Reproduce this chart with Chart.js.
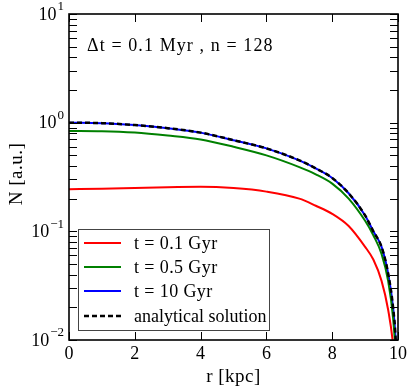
<!DOCTYPE html>
<html>
<head>
<meta charset="utf-8">
<script src="https://cdn.jsdelivr.net/npm/chart.js@4.4.1/dist/chart.umd.min.js"></script>
<style>
  html, body { margin: 0; padding: 0; background: #fff; }
  #c { display: block; }
</style>
</head>
<body>
<canvas id="c" width="413" height="392"></canvas>
<script>
// radius in kpc
const radius = [0, 1, 2, 3, 4, 5, 6, 7, 7.5, 8, 8.5, 9, 9.25, 9.5, 9.7, 9.85, 9.93, 9.99];
// N [a.u.]
const n01 = [0.244, 0.247, 0.251, 0.255, 0.257, 0.25, 0.232, 0.20, 0.172, 0.145, 0.112, 0.072, 0.055, 0.035, 0.019, 0.009, 0.004, 0.001];
const n05 = [0.84, 0.835, 0.81, 0.76, 0.70, 0.60, 0.50, 0.39, 0.335, 0.275, 0.20, 0.125, 0.092, 0.062, 0.035, 0.016, 0.007, 0.002];
const n10 = [1.0, 0.99, 0.95, 0.89, 0.81, 0.69, 0.58, 0.45, 0.38, 0.31, 0.224, 0.14, 0.10, 0.072, 0.041, 0.02, 0.01, 0.003];
const nAna = [1.0, 0.99, 0.95, 0.89, 0.81, 0.69, 0.58, 0.45, 0.38, 0.31, 0.224, 0.14, 0.10, 0.072, 0.041, 0.02, 0.01, 0.003];

const seriesLabels = ['t = 0.1 Gyr', 't = 0.5 Gyr', 't = 10 Gyr', 'analytical solution'];
const xTicks = [0, 2, 4, 6, 8, 10];
const yExponents = [-2, -1, 0, 1];

const serif = '"Liberation Serif", "DejaVu Serif", serif';

function pts(vals) {
    return radius.map((r, i) => ({ x: r, y: vals[i] }));
}

// frame, ticks, labels and legend drawn by hand (matplotlib look)
const decor = {
    id: 'decor',
    afterDatasetsDraw(chart) {
        const ctx = chart.ctx;
        const a = chart.chartArea;
        const xs = chart.scales.x, ys = chart.scales.y;
        ctx.save();
        ctx.strokeStyle = '#000';
        ctx.fillStyle = '#000';

        // ticks, inward, both sides
        ctx.lineWidth = 1;
        const tl = 8;
        xTicks.forEach(v => {
            const px = Math.round(xs.getPixelForValue(v)) + 0.5;
            ctx.beginPath();
            ctx.moveTo(px, a.bottom); ctx.lineTo(px, a.bottom - tl);
            ctx.moveTo(px, a.top); ctx.lineTo(px, a.top + tl);
            ctx.stroke();
        });
        for (let e = -2; e <= 0; e++) {
            for (let k = 1; k <= 10; k++) {
                const py = Math.round(ys.getPixelForValue(k * Math.pow(10, e))) + 0.5;
                ctx.beginPath();
                ctx.moveTo(a.left, py); ctx.lineTo(a.left + tl, py);
                ctx.moveTo(a.right, py); ctx.lineTo(a.right - tl, py);
                ctx.stroke();
            }
        }

        // frame
        ctx.lineWidth = 1.6;
        ctx.strokeRect(a.left, a.top, a.right - a.left, a.bottom - a.top);

        // x tick labels
        ctx.font = '18px ' + serif;
        ctx.textAlign = 'center';
        ctx.textBaseline = 'middle';
        xTicks.forEach(v => {
            ctx.fillText(String(v), xs.getPixelForValue(v), a.bottom + 14);
        });

        // y tick labels 10^e
        yExponents.forEach(e => {
            const py = ys.getPixelForValue(Math.pow(10, e));
            const sup = e < 0 ? '\u2212' + (-e) : String(e);
            ctx.font = '13px ' + serif;
            const ws = ctx.measureText(sup).width;
            const right = a.left - 5;
            ctx.textAlign = 'left';
            ctx.textBaseline = 'middle';
            ctx.fillText(sup, right - ws, py - 7);
            ctx.font = '18px ' + serif;
            ctx.textAlign = 'right';
            ctx.fillText('10', right - ws - 1, py + 1);
        });

        // axis titles
        ctx.font = '19px ' + serif;
        ctx.textAlign = 'center';
        ctx.textBaseline = 'middle';
        ctx.letterSpacing = '0.5px';
        ctx.fillText('r [kpc]', (a.left + a.right) / 2, a.bottom + 37);
        ctx.save();
        ctx.translate(17, 174);
        ctx.rotate(-Math.PI / 2);
        ctx.fillText('N [a.u.]', 0, 0);
        ctx.restore();

        // annotation
        ctx.font = '18px ' + serif;
        ctx.textAlign = 'left';
        ctx.letterSpacing = '1.1px';
        ctx.fillText('\u0394t = 0.1 Myr , n = 128', 87, 46);
        ctx.letterSpacing = '0px';

        // legend
        const lx = 78.5, ly = 229.5, lw = 191, lh = 101;
        ctx.fillStyle = '#fff';
        ctx.fillRect(lx, ly, lw, lh);
        ctx.strokeStyle = '#444';
        ctx.lineWidth = 1;
        ctx.strokeRect(lx, ly, lw, lh);
        const rows = [243, 267, 291, 316];
        seriesLabels.forEach((lab, i) => {
            const ds = chart.data.datasets.find(d => d.label === lab);
            ctx.strokeStyle = ds.borderColor;
            ctx.lineWidth = ds.borderWidth;
            ctx.setLineDash(ds.borderDash || []);
            ctx.beginPath();
            ctx.moveTo(84, rows[i]); ctx.lineTo(121, rows[i]);
            ctx.stroke();
            ctx.setLineDash([]);
            ctx.fillStyle = '#000';
            ctx.font = '18px ' + serif;
            ctx.letterSpacing = i < 3 ? '0.4px' : '0px';
            ctx.textBaseline = 'middle';
            ctx.fillText(lab, 134, rows[i] + 1);
        });
        ctx.restore();
    }
};

new Chart(document.getElementById('c'), {
    type: 'line',
    data: {
        datasets: [
            { label: seriesLabels[3], data: pts(nAna), borderColor: '#000000', borderWidth: 2.5, borderDash: [5, 3], order: 0 },
            { label: seriesLabels[0], data: pts(n01), borderColor: '#ff0000', borderWidth: 2, order: 1 },
            { label: seriesLabels[1], data: pts(n05), borderColor: '#008000', borderWidth: 2, order: 1 },
            { label: seriesLabels[2], data: pts(n10), borderColor: '#0000ff', borderWidth: 2, order: 1 }
        ]
    },
    options: {
        responsive: false,
        animation: false,
        devicePixelRatio: 1,
        layout: { padding: { left: 69, right: 15, top: 14, bottom: 52 } },
        elements: {
            point: { radius: 0 },
            line: { cubicInterpolationMode: 'monotone', fill: false }
        },
        datasets: { line: { clip: 0 } },
        scales: {
            x: { type: 'linear', min: 0, max: 10, display: false },
            y: { type: 'logarithmic', min: 0.01, max: 10, display: false }
        },
        plugins: { legend: { display: false }, tooltip: { enabled: false } }
    },
    plugins: [decor]
});
</script>
</body>
</html>
